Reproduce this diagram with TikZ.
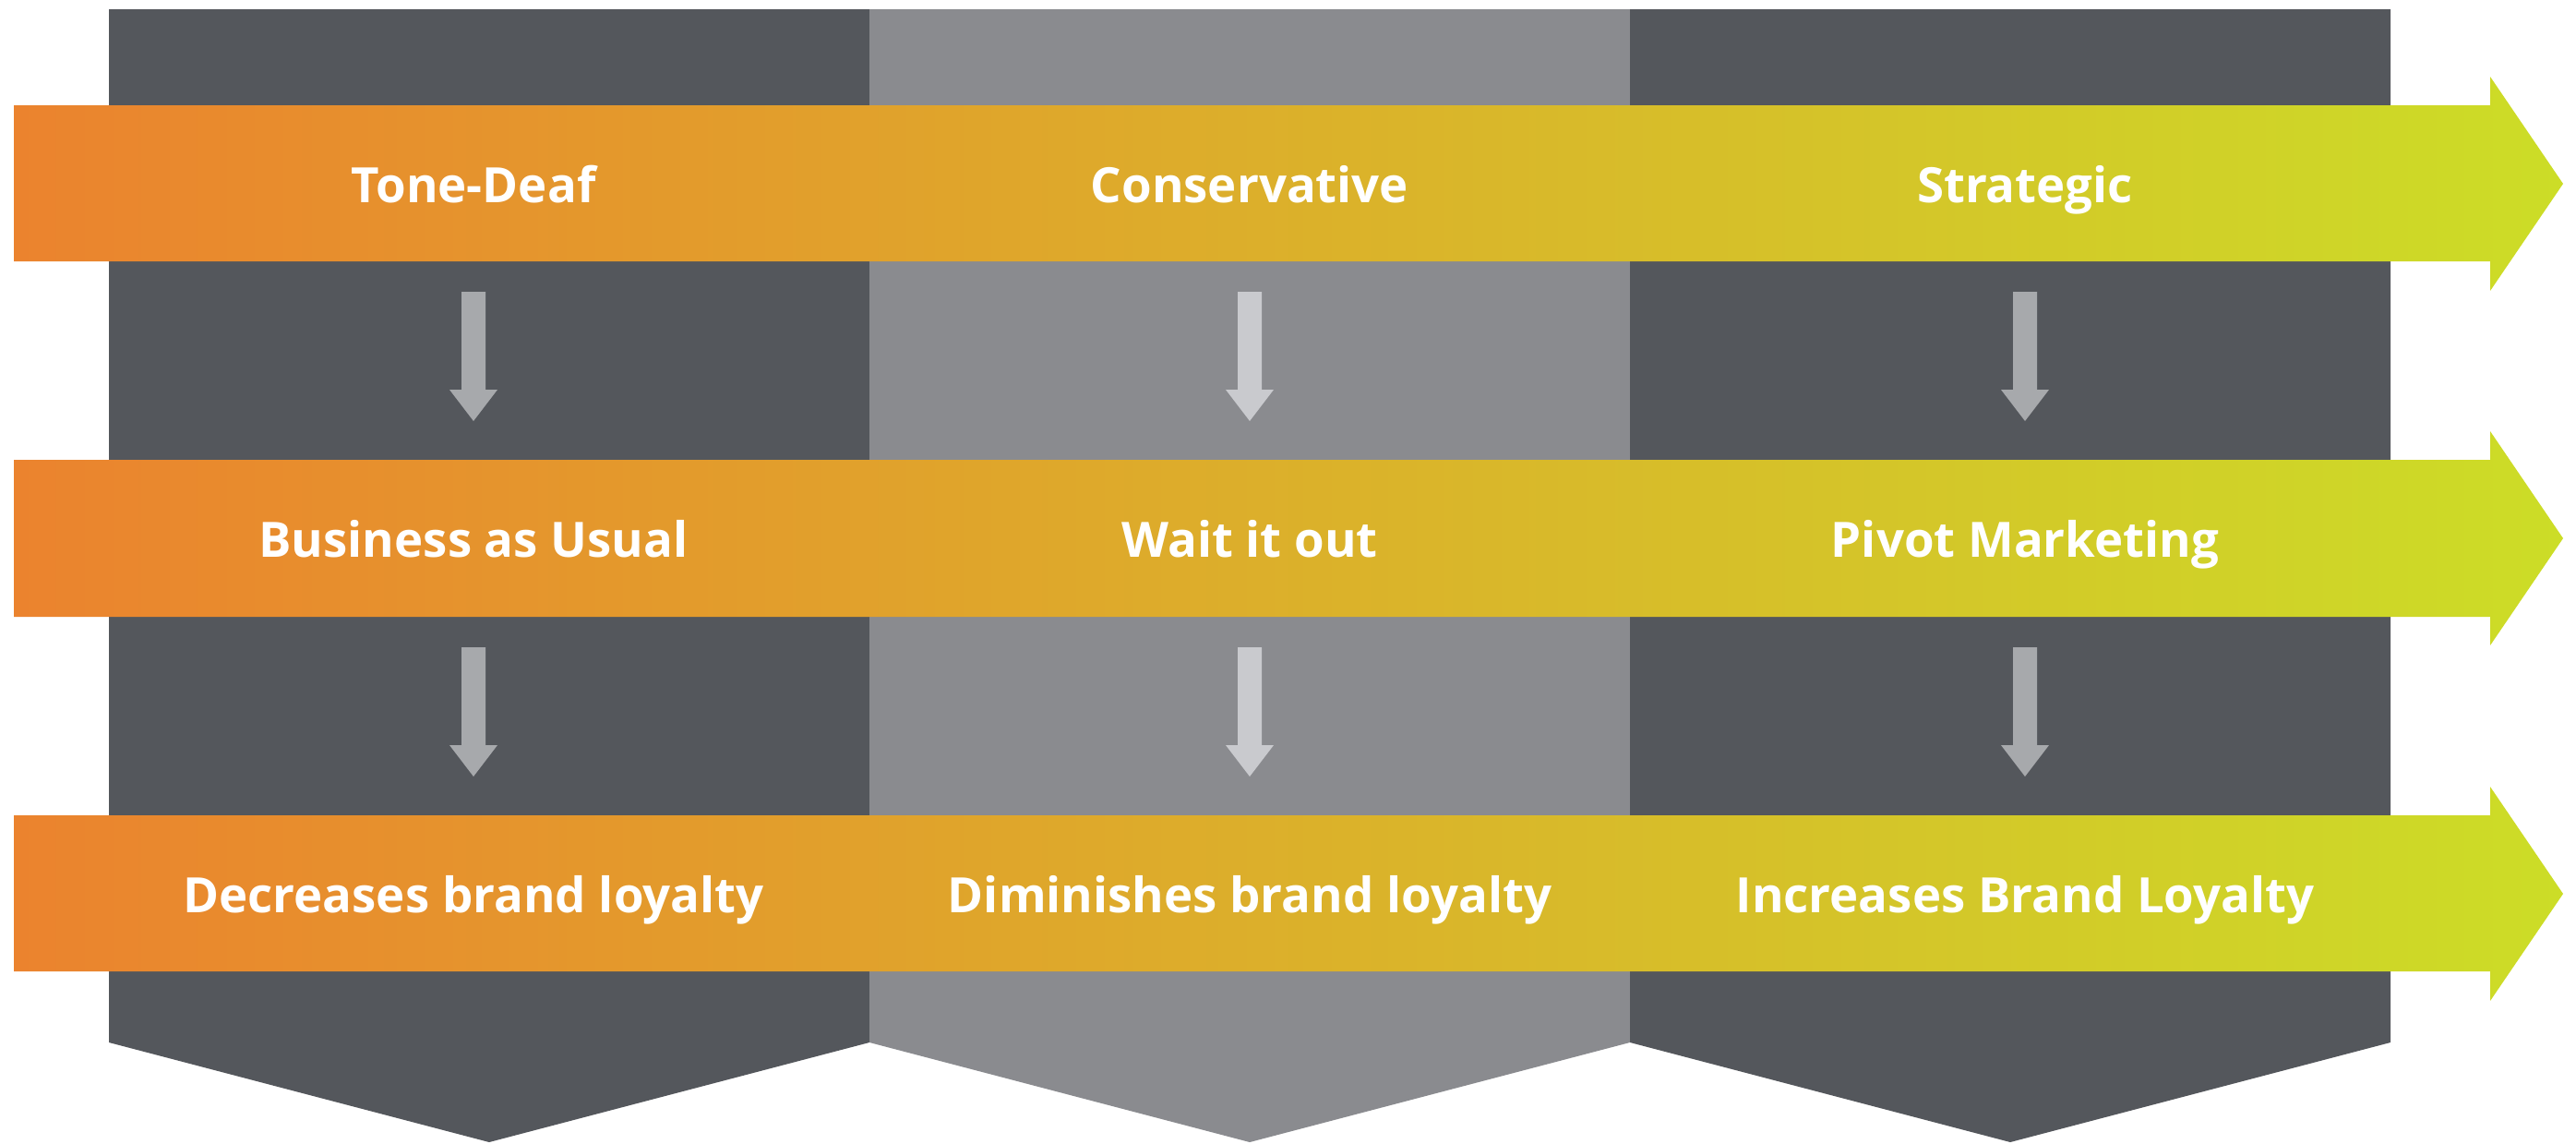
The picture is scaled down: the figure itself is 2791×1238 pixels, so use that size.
\documentclass[tikz,border=0pt]{standalone}
\usepackage{fontspec}
\setmainfont{Open Sans}
\definecolor{coldark}{HTML}{54575C}
\definecolor{colmid}{HTML}{8A8B8F}
\definecolor{arrdark}{HTML}{A7A9AC}
\definecolor{arrmid}{HTML}{C9CACE}
\definecolor{bandleft}{HTML}{EB832E}
\definecolor{bandright}{HTML}{CCDD27}

\begin{document}
\begin{tikzpicture}[x=0.01cm, y=-0.01cm,
		band/.style={left color=bandleft, right color=bandright},
		lbl/.style={text=white, anchor=base, inner sep=0pt, font=\bfseries\fontsize{15}{18}\selectfont}]
			\useasboundingbox (0,0) rectangle (2791,1238);
			
			% columns
			\fill[coldark] (118,10) -- (942,10) -- (942,1129) -- (530,1237) -- (118,1129) -- cycle;
			\fill[colmid] (942,10) -- (1766,10) -- (1766,1129) -- (1354,1237) -- (942,1129) -- cycle;
			\fill[coldark] (1766,10) -- (2590,10) -- (2590,1129) -- (2178,1237) -- (1766,1129) -- cycle;
			
			% bands
			\shade[band] (15,114) -- (2698,114) -- (2698,83) -- (2777,199) -- (2698,315) -- (2698,283) -- (15,283) -- cycle;
			\shade[band] (15,498) -- (2698,498) -- (2698,467) -- (2777,583) -- (2698,699) -- (2698,668) -- (15,668) -- cycle;
			\shade[band] (15,883) -- (2698,883) -- (2698,852) -- (2777,968) -- (2698,1084) -- (2698,1052) -- (15,1052) -- cycle;
			
			% small arrows
			\fill[arrdark] (500,316) -- (526,316) -- (526,422) -- (539,422) -- (513,456) -- (487,422) -- (500,422) -- cycle;
			\fill[arrmid] (1341,316) -- (1367,316) -- (1367,422) -- (1380,422) -- (1354,456) -- (1328,422) -- (1341,422) -- cycle;
			\fill[arrdark] (2181,316) -- (2207,316) -- (2207,422) -- (2220,422) -- (2194,456) -- (2168,422) -- (2181,422) -- cycle;
			
			\fill[arrdark] (500,701) -- (526,701) -- (526,807) -- (539,807) -- (513,841) -- (487,807) -- (500,807) -- cycle;
			\fill[arrmid] (1341,701) -- (1367,701) -- (1367,807) -- (1380,807) -- (1354,841) -- (1328,807) -- (1341,807) -- cycle;
			\fill[arrdark] (2181,701) -- (2207,701) -- (2207,807) -- (2220,807) -- (2194,841) -- (2168,807) -- (2181,807) -- cycle;
			
			% labels
			\node[lbl] (tonedeaf) at (513,219) {Tone-Deaf};
			\node[lbl] (conservative) at (1354,219) {Conservative};
			\node[lbl] (strategic) at (2194,219) {Strategic};
			
			\node[lbl] (asusual) at (513,603) {Business as Usual};
			\node[lbl] (waitout) at (1354,603) {Wait it out};
			\node[lbl] (pivot) at (2194,603) {Pivot Marketing};
			
			\node[lbl] (decreases) at (513,988) {Decreases brand loyalty};
			\node[lbl] (diminishes) at (1354,988) {Diminishes brand loyalty};
			\node[lbl] (increases) at (2194,988) {Increases Brand Loyalty};
			
		\end{tikzpicture}
\end{document}
